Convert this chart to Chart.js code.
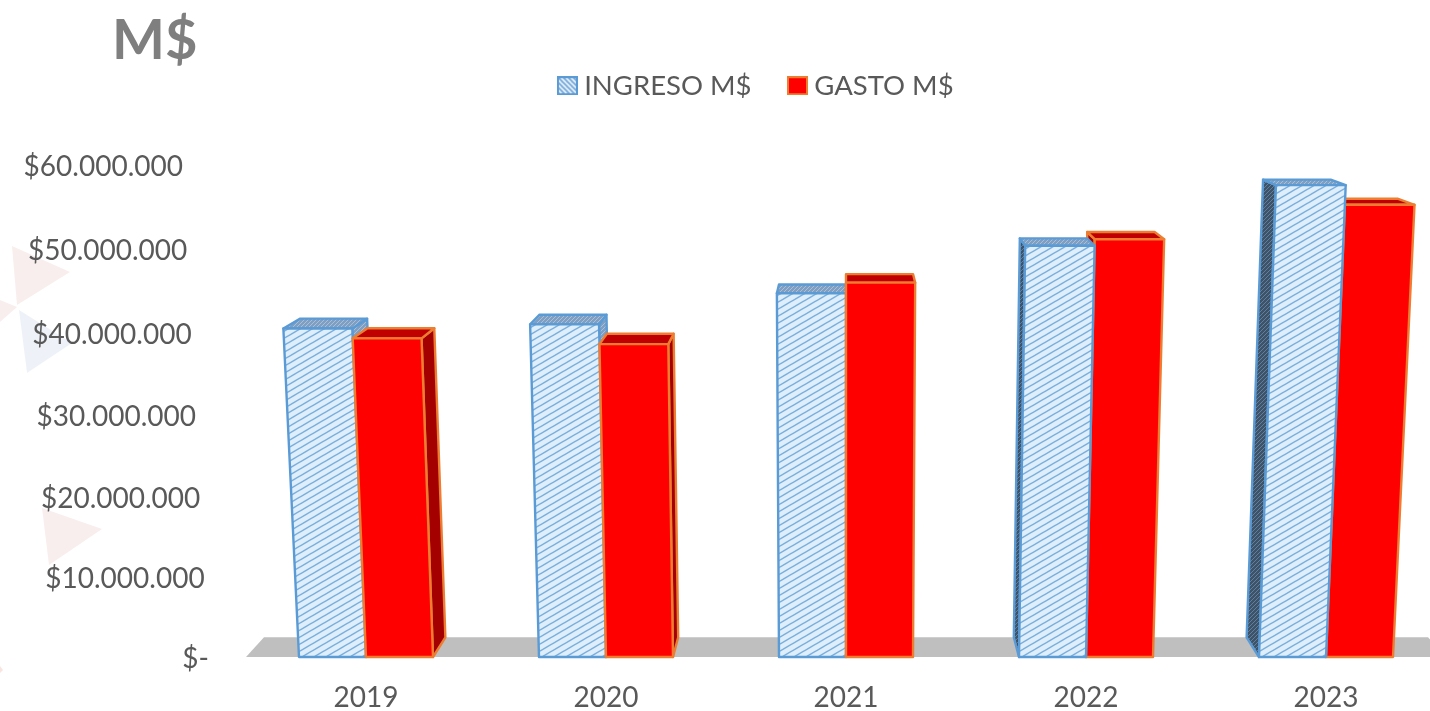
<!DOCTYPE html>
<html>
<head>
<meta charset="utf-8">
<title>M$</title>
<script src="https://cdn.jsdelivr.net/npm/chart.js@4"></script>
<style>
  html, body { margin: 0; padding: 0; background: #fff; overflow: hidden; }
  #wrap { width: 1430px; height: 711px; overflow: hidden; }
</style>
</head>
<body>
<div id="wrap"><canvas id="chart" width="1460" height="711"></canvas></div>
<script>
// Data
const years = ['2019', '2020', '2021', '2022', '2023'];
const ingreso = [40100000, 40600000, 44400000, 50200000, 57600000];
const gasto = [38900000, 38200000, 45700000, 51000000, 55200000];
const yTickLabels = ['$-', '$10.000.000', '$20.000.000', '$30.000.000', '$40.000.000', '$50.000.000', '$60.000.000'];

const FONT = 'Lato';
const TEXT = '#595959';
const BLUE_LINE = '#5b9bd5';
const ORANGE_LINE = '#ed7d31';

// perspective of the 3D look
const FAN = 8.7e-5; // how much bars spread per px of height
const DEPTH = 0.03; // how far the back face goes towards the vanishing point

function hatch(w, h, bg, line, lineWidth, mirror) {
  const c = document.createElement('canvas');
  c.width = w;
  c.height = h;
  const g = c.getContext('2d');
  g.fillStyle = bg;
  g.fillRect(0, 0, w, h);
  if (mirror) {
    g.translate(w, 0);
    g.scale(-1, 1);
  }
  g.strokeStyle = line;
  g.lineWidth = lineWidth;
  [-h, 0, h].forEach((dy) => {
    g.beginPath();
    g.moveTo(-w, h + h + dy);
    g.lineTo(w + w, dy - h);
    g.stroke();
  });
  return c;
}

const ctx = document.getElementById('chart').getContext('2d');
const frontPattern = ctx.createPattern(hatch(12, 7, '#deeefa', '#7aaedd', 1.5), 'repeat');
const sidePattern = ctx.createPattern(hatch(4, 4, '#3f5366', '#5e7fa6', 1), 'repeat');
const topPattern = ctx.createPattern(hatch(4, 4, '#7f9fc2', '#a9bfd8', 1), 'repeat');

function legendIcon(fill, line) {
  const c = document.createElement('canvas');
  c.width = 21;
  c.height = 19;
  const g = c.getContext('2d');
  g.fillStyle = fill;
  g.fillRect(1, 1, 19, 17);
  g.strokeStyle = line;
  g.lineWidth = 2;
  g.strokeRect(1, 1, 19, 17);
  return c;
}
const blueIcon = legendIcon(ctx.createPattern(hatch(5, 5, '#e3f0fb', '#79a9d8', 1.6, true), 'repeat'), BLUE_LINE);
const redIcon = legendIcon('#ff0000', ORANGE_LINE);

// value axis with the labels following the slanted wall of the 3D chart
class WallScale extends Chart.LinearScale {
  static id = 'wall';
  static defaults = Chart.LinearScale.defaults;
  _computeLabelItems(area) {
    const items = super._computeLabelItems(area);
    items.forEach((item, i) => {
      const t = this.ticks[i].value / this.max;
      item.options.translation[0] -= 26 * t;
      item.options.translation[1] += 1.5 + 4.5 * (1 - (2 * t - 1) * (2 * t - 1));
    });
    return items;
  }
}
Chart.register(WallScale);

function poly(c, pts, fill, line) {
  c.beginPath();
  pts.forEach((p, i) => (i ? c.lineTo(p[0], p[1]) : c.moveTo(p[0], p[1])));
  c.closePath();
  c.fillStyle = fill;
  c.fill();
  c.strokeStyle = line;
  c.lineWidth = 2.4;
  c.lineJoin = 'round';
  c.stroke();
}

const bars3d = {
  id: 'bars3d',
  beforeDraw(chart) {
    // faint triangles of the slide background
    const c = chart.ctx;
    const tri = (color, pts) => {
      c.beginPath();
      pts.forEach((p, i) => (i ? c.lineTo(p[0], p[1]) : c.moveTo(p[0], p[1])));
      c.closePath();
      c.fillStyle = color;
      c.fill();
    };
    tri('#f9eeee', [[12, 246], [70, 272], [17, 305]]);
    tri('#f9eeee', [[0, 300], [17, 307], [0, 322]]);
    tri('#eef2f8', [[19, 310], [72, 343], [27, 373]]);
    tri('#f9eeee', [[42, 508], [102, 529], [49, 565]]);
    tri('#f9e4e0', [[0, 666], [3, 670], [0, 673]]);
  },
  afterLayout(chart) {
    chart.titleBlock.left = 112;
    // legend sits right of the canvas middle in the reference
    chart.legend.left += 36;
    chart.legend.right += 36;
    chart.legend.top -= 56;
    chart.legend.bottom -= 56;
  },
  beforeDatasetsDraw(chart) {
    const c = chart.ctx;
    const area = chart.chartArea;
    const cx = (area.left + area.right) / 2;
    const bottom = area.bottom;
    const front = (x, y) => [cx + (x - cx) * (1 + FAN * (bottom - y)), y];
    const back = (p) => [p[0] + DEPTH * (cx - p[0]), p[1] - DEPTH * p[1]];

    // floor
    c.beginPath();
    c.moveTo(area.left, bottom);
    c.lineTo(area.right, bottom);
    c.lineTo(...back([area.right, bottom]));
    c.lineTo(...back([area.left, bottom]));
    c.closePath();
    c.fillStyle = '#bfbfbf';
    c.fill();

    const faces = [
      { leftSide: sidePattern, rightSide: topPattern, top: topPattern, line: BLUE_LINE },
      { leftSide: '#a50000', rightSide: '#a50000', top: '#c00000', line: ORANGE_LINE },
    ];

    years.forEach((year, i) => {
      // the bar closer to the middle of the picture is drawn first
      const order = chart.getDatasetMeta(0).data[i].x > cx + 100 ? [1, 0] : [0, 1];
      order.forEach((d) => {
        const bar = chart.getDatasetMeta(d).data[i];
        const f = faces[d];
        const left = bar.x - bar.width / 2;
        const right = bar.x + bar.width / 2;
        const bl = front(left, bar.base);
        const br = front(right, bar.base);
        const tl = front(left, bar.y);
        const tr = front(right, bar.y);
        if (right < cx) poly(c, [tr, br, back(br), back(tr)], f.rightSide, f.line);
        if (left > cx) poly(c, [tl, bl, back(bl), back(tl)], f.leftSide, f.line);
        poly(c, [tl, tr, back(tr), back(tl)], f.top, f.line);
        poly(c, [bl, br, tr, tl], bar.options.backgroundColor, f.line);
      });
    });
    return false;
  },
};

new Chart(ctx, {
  type: 'bar',
  data: {
    labels: years,
    datasets: [
      { label: 'INGRESO M$', data: ingreso, backgroundColor: frontPattern, borderColor: BLUE_LINE },
      { label: 'GASTO M$', data: gasto, backgroundColor: '#ff0000', borderColor: ORANGE_LINE },
    ],
  },
  options: {
    responsive: false,
    animation: false,
    layout: { padding: { right: 14 } },
    datasets: { bar: { categoryPercentage: 134 / 240, barPercentage: 1 } },
    plugins: {
      tooltip: { enabled: false },
      title: {
        display: true,
        text: 'M$',
        align: 'start',
        color: '#7f7f7f',
        font: { family: FONT, size: 56, weight: 'bold' },
        padding: { top: 7, bottom: 10.8 },
      },
      legend: {
        display: true,
        position: 'top',
        labels: {
          color: TEXT,
          font: { family: FONT, size: 27.5 },
          usePointStyle: true,
          pointStyleWidth: 6,
          padding: 43,
          generateLabels(chart) {
            const items = Chart.defaults.plugins.legend.labels.generateLabels(chart);
            return items.map((item, i) => ({ ...item, pointStyle: i === 0 ? blueIcon : redIcon }));
          },
        },
      },
    },
    scales: {
      x: {
        grid: { display: false, drawTicks: false },
        border: { display: false },
        afterFit(scale) { scale.height = 54; },
        ticks: { color: TEXT, font: { family: FONT, size: 28 }, padding: 24, autoSkip: false, maxRotation: 0 },
      },
      y: {
        type: 'wall',
        min: 0,
        max: 60000000,
        grid: { display: false, drawTicks: false },
        border: { display: false },
        afterFit(scale) { scale.width = 246; },
        ticks: {
          stepSize: 10000000,
          color: TEXT,
          font: { family: FONT, size: 28 },
          padding: 37,
          callback: (value, i) => yTickLabels[i],
        },
      },
    },
  },
  plugins: [bars3d],
});
</script>
</body>
</html>
